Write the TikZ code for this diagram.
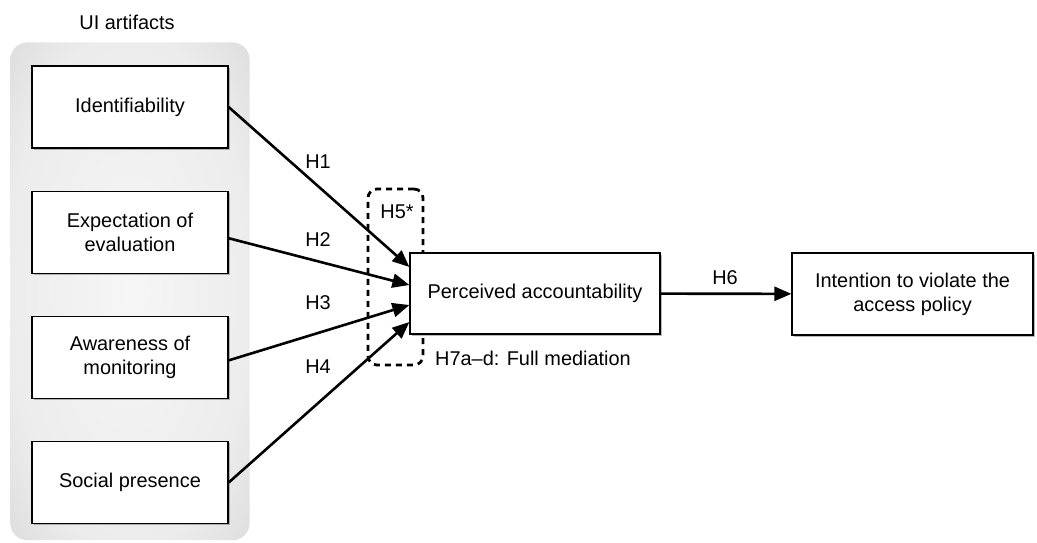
\documentclass[tikz,border=0pt]{standalone}
\usepackage{fontspec}
\setmainfont{Liberation Sans}
\usetikzlibrary{arrows.meta, positioning, fit, backgrounds, shadows}
\pgfdeclareradialshading{uifade}{\pgfpoint{0bp}{0bp}}{%
  color(0bp)=(gray!7); color(26bp)=(gray!15); color(42bp)=(gray!34);
  color(50bp)=(gray!56)}
\tikzset{
  art/.style  = {draw, line width=1.2bp, fill=white, align=center,
                 minimum width=196bp, minimum height=82bp, inner sep=4bp,
                 drop shadow={shadow xshift=1.6bp, shadow yshift=-1.6bp,
                              fill=black!55, opacity=0.5}},
  grp/.style  = {rounded corners=17bp, shading=uifade},
  med/.style  = {draw, line width=2.8bp, rounded corners=9bp,
                 dash pattern=on 6bp off 5bp},
  hyp/.style  = {-{Triangle[length=17bp, width=14bp]}, line width=2.6bp},
}

\begin{document}
\begin{tikzpicture}[x=1bp, y=-1bp,
    every node/.style={font=\fontsize{20}{24}\selectfont}]
  \useasboundingbox (0,0) rectangle (1037,543);
  \node (title) at (127,22) {UI artifacts};
  \node[art] (idf) at (130,107) {Identifiability};
  \node[art, below=42bp of idf] (eva) {Expectation of\\evaluation};
  \node[art, below=42bp of eva] (mon) {Awareness of\\monitoring};
  \node[art, below=42bp of mon] (soc) {Social presence};
  \begin{scope}[on background layer]
    \node[grp, fit=(idf)(soc), inner xsep=21bp, inner ysep=19.5bp,
          yshift=3.5bp] (uigrp) {};
  \end{scope}
  \node[med, minimum width=55bp, minimum height=176bp] (medbox) at (395.5,277) {};
  \node (h5) at (397,212) {H5*};
  \node[art, minimum width=250bp, minimum height=81bp] (acc) at (535,293.5)
       {Perceived accountability};
  \node[art, minimum width=241bp] (int) at (912.5,294)
       {Intention to violate the\\access policy};
  \draw[hyp] (idf.east) -- ([yshift=26.5bp]acc.west);
  \draw[hyp] ([yshift=-6bp]eva.east) -- ([yshift=8.5bp]acc.west);
  \draw[hyp] ([yshift=-3bp]mon.east) -- ([yshift=-11.5bp]acc.west);
  \draw[hyp] (soc.east) -- ([yshift=-28.5bp]acc.west);
  \draw[hyp] (acc) -- (int);
  \node (h1) at (318,162) {H1};
  \node (h2) at (318,240) {H2};
  \node (h3) at (318,303) {H3};
  \node (h4) at (318,367) {H4};
  \node (h6) at (725,278) {H6};
  \node (h7) at (533,358) {H7a--d: Full mediation};
\end{tikzpicture}
\end{document}
